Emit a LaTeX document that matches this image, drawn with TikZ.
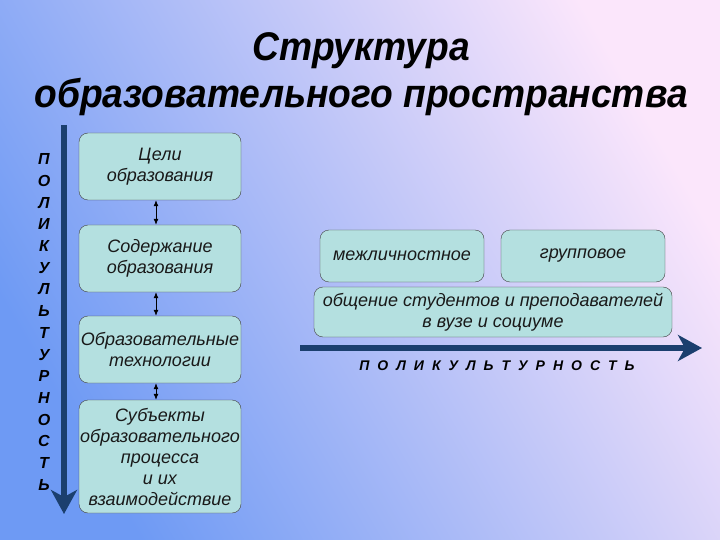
\documentclass[tikz,border=0pt]{standalone}
\usepackage{fontspec}
\setmainfont{Liberation Sans}
\newfontfamily\titlefont[FakeStretch=0.93]{Liberation Sans}
\usetikzlibrary{arrows.meta,positioning}
\definecolor{bgblue}{HTML}{6E9AF4}
\definecolor{bgmid}{HTML}{B2C0F6}
\definecolor{bgpink}{HTML}{FBE6FB}
\definecolor{boxfill}{HTML}{B4E0E0}
\definecolor{navy}{HTML}{1B3F6E}
\begin{document}
\begin{tikzpicture}[x=1pt,y=-1pt,>=Latex,
  box/.style={draw=black!75,rounded corners=9pt,fill=boxfill,align=center,text=black!90,font=\itshape\fontsize{18}{21}\selectfont,inner sep=1pt},
  link/.style={{Latex[length=6pt,width=5pt]}-{Latex[length=6pt,width=5pt]},line width=0.8pt},
  bigarrow/.style={-{Stealth[length=24pt,width=26pt,inset=7pt]},line width=6pt,draw=navy}]
% background
\shade[top color=bgpink,middle color=bgmid,bottom color=bgblue,shading angle=-60] (0,0) rectangle (720,540);
\useasboundingbox (0,0) rectangle (720,540);
% title
\node[align=center,font=\titlefont\bfseries\itshape\fontsize{40}{47}\selectfont] (title) at (361,74) {Структура\\образовательного пространства};
% left column
\coordinate (vtop) at (64,125);
\coordinate (vend) at (64,514);
\draw[bigarrow] (vtop) -- (vend);
\node[align=center,font=\bfseries\itshape\fontsize{16}{21.7}\selectfont] (vlabel) at (44,322) {П\\О\\Л\\И\\К\\У\\Л\\Ь\\Т\\У\\Р\\Н\\О\\С\\Т\\Ь};
\node[box,minimum width=162pt,minimum height=67pt] (goals) at (160,166.5) {Цели\\образования};
\node[box,minimum width=162pt,minimum height=67pt] (content) at (160,258.5) {Содержание\\образования};
\node[box,minimum width=162pt,minimum height=67pt] (tech) at (160,349.5) {Образовательные\\технологии};
\node[box,minimum width=162pt,minimum height=113pt] (subj) at (160,456.5) {Субъекты\\образовательного\\процесса\\и их\\взаимодействие};
\draw[link] ([xshift=-4pt]goals.south) -- ([xshift=-4pt]content.north);
\draw[link] ([xshift=-4pt]content.south) -- ([xshift=-4pt]tech.north);
\draw[link] ([xshift=-4pt]tech.south) -- ([xshift=-4pt]subj.north);
% right part
\node[box,minimum width=164pt,minimum height=52pt] (inter) at (402,256) {межличностное};
\node[box,minimum width=164pt,minimum height=52pt] (group) at (583,256) {групповое};
\node[box,minimum width=358pt,minimum height=50pt] (comm) at (493,312) {общение студентов и преподавателей\\в вузе и социуме};
\coordinate (hstart) at (300,348);
\coordinate (hend) at (702,348);
\draw[bigarrow] (hstart) -- (hend);
\node[font=\bfseries\itshape\fontsize{14}{16}\selectfont] (hlabel) at (497,366) {\spaceskip=8pt\relax П О Л И К У Л Ь Т У Р Н О С Т Ь};
\end{tikzpicture}
\end{document}
